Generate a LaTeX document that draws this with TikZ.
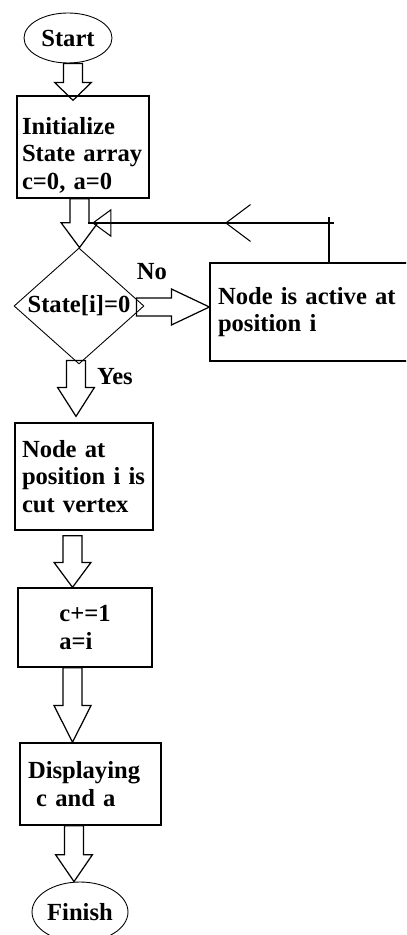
\documentclass[tikz,border=0pt]{standalone}
\usepackage{fontspec}
\setmainfont{Liberation Serif}
\usetikzlibrary{shapes.geometric,arrows.meta,calc,decorations.markings}
\tikzset{
  txt/.style={font=\bfseries\fontsize{14}{15.6}\selectfont},
  box/.style={draw, line width=0.75pt, align=left, txt},
  oval/.style={draw, ellipse, line width=0.5pt, inner sep=0pt, txt},
  blockline/.style={draw, line width=0.7pt, line join=miter},
  thinline/.style={line width=0.6pt},
}
% block arrow pointing down: [head length in px]{top}{tip}
\newcommand{\blockdown}[3][26]{%
  \draw[blockline] let \p1=#2, \p2=#3 in
    (\x1-5.4pt,\y1) -- (\x1-5.4pt,\y2+#1*0.567pt) -- (\x1-10.5pt,\y2+#1*0.567pt)
    -- (\x1,\y2) -- (\x1+10.5pt,\y2+#1*0.567pt) -- (\x1+5.4pt,\y2+#1*0.567pt)
    -- (\x1+5.4pt,\y1) -- cycle;}
\begin{document}
\begin{tikzpicture}[x=0.02cm,y=-0.02cm]
\useasboundingbox (0,0) rectangle (406,935);
\clip (0,0) rectangle (406,935);
% nodes
\node[oval, minimum width=1.76cm, minimum height=1cm] (start) at (68,38) {Start};
\node[box, minimum width=2.64cm, minimum height=1.92cm, inner sep=0.1cm, text width=2.44cm] (init) at (83,147) {\rule{0pt}{19pt}Initialize\\State array\\c=0, a=0};
\node[draw, diamond, aspect=1.12, line width=0.5pt, inner sep=0pt, minimum width=2.6cm, minimum height=2.32cm, txt] (test) at (79,306) {State[i]=0};
\node[box, minimum width=4.2cm, minimum height=1.96cm, inner sep=0.16cm, text width=3.88cm] (active) at (315,312) {Node is active at\\position i};
\node[box, minimum width=2.76cm, minimum height=2.14cm, inner sep=0.14cm, text width=2.48cm] (cut) at (84,476.5) {Node at\\position i is\\cut vertex};
\node[box, minimum width=2.68cm, minimum height=1.58cm] (update) at (85,627.5) {c+=1\\a=i};
\node[box, minimum width=2.82cm, minimum height=1.64cm, inner sep=0.16cm, text width=2.5cm] (disp) at (90.5,784) {Displaying\\\ c and a};
\node[oval, minimum width=1.92cm, minimum height=1.2cm] (finish) at (80,912) {Finish};
\node[txt] (no) at (152,272) {No};
\node[txt] (yes) at (115,377) {Yes};
% block arrows
\blockdown[18]{($(start.south)+(5,0)$)}{($(init.north)+(0,5)$)}
\blockdown[25]{($(init.south)+(-3.5,0)$)}{(test.north)}
\blockdown[29]{($(test.south)+(-3,-4)$)}{($(cut.north)+(0,-6)$)}
\blockdown[25]{($(cut.south)+(-11.5,5)$)}{(update.north)}
\blockdown[37]{($(update.south)+(-12.5,0)$)}{(disp.north)}
\blockdown[27]{($(disp.south)+(-16.5,0)$)}{(finish.north)}
\draw[blockline] let \p1=($(test.east)+(-8,1)$), \p2=(active.west) in
  (\x1,\y1+5.1pt) -- (\x2-21.5pt,\y1+5.1pt) -- (\x2-21.5pt,\y1+10.2pt) -- (\x2,\y1)
  -- (\x2-21.5pt,\y1-10.2pt) -- (\x2-21.5pt,\y1-5.1pt) -- (\x1,\y1-5.1pt) -- cycle;
% loop back
\coordinate (turn) at (329,223);
\coordinate (joint) at (88,223);
\draw[thinline] (active.north -| turn) -- ($(turn)+(0,-6)$);
\draw[thinline, postaction=decorate, decoration={markings,
  mark=at position 2.18cm with {\arrow{Straight Barb[length=14pt,width=21pt]}},
  mark=at position 4.84cm with {\arrow{Triangle[open,length=11pt,width=16pt]}}}]
  ($(turn)+(5,0)$) -- (joint);
\end{tikzpicture}
\end{document}
